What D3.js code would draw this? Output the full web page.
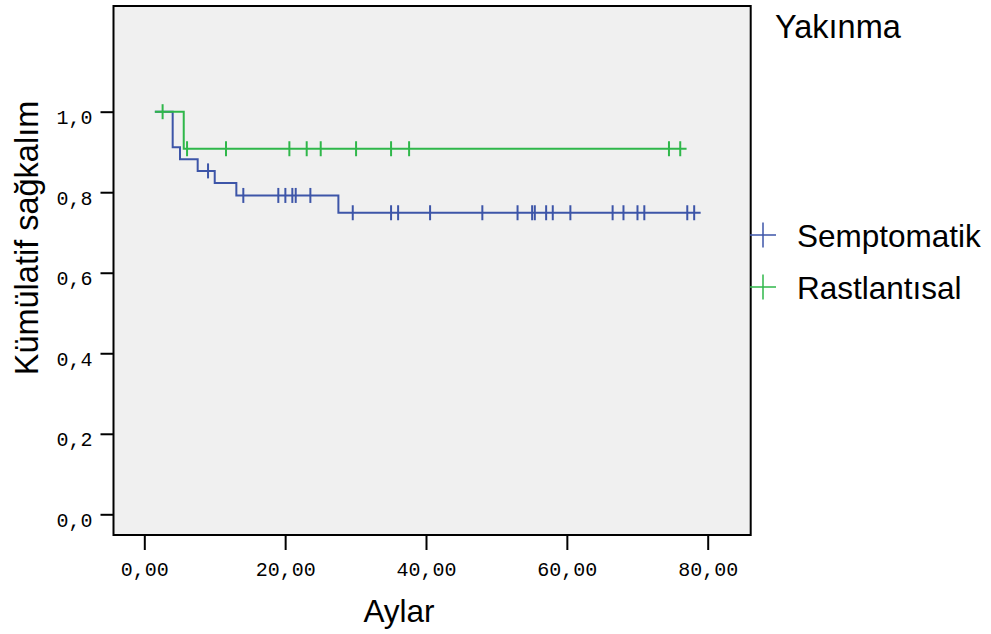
<!DOCTYPE html>
<html><head><meta charset="utf-8">
<script src="https://cdn.jsdelivr.net/npm/d3@7"></script>
<style>html,body{margin:0;padding:0;background:#fff;}svg{display:block;}</style>
</head><body>
<svg id="chart" width="991" height="634"></svg>
<script>
// ---- data ----
const seriesNames = ["Semptomatik", "Rastlantısal"];
const startTime = 1.5;
// Semptomatik
const semEventTimes = [4.03, 5.07, 7.58, 10.0, 13.07, 27.56];
const semSurvival   = [0.912, 0.882, 0.853, 0.823, 0.792, 0.749];
const semCensor = [9.05, 14.06, 19.03, 20.03, 21.02, 21.5, 23.58, 29.6, 35.04, 36.04, 40.58, 48.0, 53.0, 55.07, 55.45, 57.06, 58.0, 60.5, 66.5, 68.04, 70.03, 71.0, 77.1, 78.08];
const semEnd = 79.0;
// Rastlantısal
const rasEventTimes = [5.6];
const rasSurvival   = [0.908];
const rasCensor = [2.6, 6.07, 11.6, 20.6, 23.06, 25.05, 30.07, 35.04, 37.6, 74.5, 76.1];
const rasEnd = 77.0;
// ticks
const xTicks = [0, 20, 40, 60, 80];
const xTickLabels = ["0,00", "20,00", "40,00", "60,00", "80,00"];
const yTicks = [0, 0.2, 0.4, 0.6, 0.8, 1.0];
const yTickLabels = ["0,0", "0,2", "0,4", "0,6", "0,8", "1,0"];
const xTitle = "Aylar";
const yTitle = "Kümülatif sağkalım";
const legendTitle = "Yakınma";

// ---- layout ----
const svg = d3.select("#chart");
const colors = ["#3d55a8", "#2fb74a"];
const x = d3.scaleLinear().domain([0, 80]).range([144.3, 707.7]);
const y = d3.scaleLinear().domain([0, 1]).range([514.3, 111.7]);
const frame = {x0: 113.5, y0: 6, x1: 750.7, y1: 535};

svg.append("rect").attr("x", frame.x0).attr("y", frame.y0)
  .attr("width", frame.x1 - frame.x0).attr("height", frame.y1 - frame.y0)
  .attr("fill", "#f0f0f0").attr("stroke", "none");

// axes
const yAxis = d3.axisLeft(y).tickValues(yTicks).tickSize(13).tickPadding(8)
  .tickFormat((d, i) => yTickLabels[i]);
const gy = svg.append("g").attr("transform", `translate(${frame.x0},0)`).call(yAxis);
gy.select(".domain").remove();
gy.selectAll(".tick line").attr("stroke", "#000").attr("stroke-width", 2);
gy.selectAll(".tick text").attr("font-family", "'Liberation Mono', monospace")
  .attr("font-size", 20).attr("fill", "#000").attr("dy", "0.6em");

const xAxis = d3.axisBottom(x).tickValues(xTicks).tickSize(15).tickPadding(12)
  .tickFormat((d, i) => xTickLabels[i]);
const gx = svg.append("g").attr("transform", `translate(0,${frame.y1})`).call(xAxis);
gx.select(".domain").remove();
gx.selectAll(".tick line").attr("stroke", "#000").attr("stroke-width", 2);
gx.selectAll(".tick text").attr("font-family", "'Liberation Mono', monospace")
  .attr("font-size", 20).attr("fill", "#000");

// frame border
svg.append("rect").attr("x", frame.x0).attr("y", frame.y0)
  .attr("width", frame.x1 - frame.x0).attr("height", frame.y1 - frame.y0)
  .attr("fill", "none").attr("stroke", "#000").attr("stroke-width", 2);

// curves
function buildSeries(evT, evS, cens, end) {
  const pts = [[startTime, 1]];
  evT.forEach((t, i) => pts.push([t, evS[i]]));
  const last = pts[pts.length - 1][1];
  pts.push([end, last]);
  const survAt = t => { let s = 1; evT.forEach((e, i) => { if (e <= t) s = evS[i]; }); return s; };
  const cpts = cens.map(t => [t, survAt(t)]);
  return {pts, cpts};
}
const series = [
  buildSeries(semEventTimes, semSurvival, semCensor, semEnd),
  buildSeries(rasEventTimes, rasSurvival, rasCensor, rasEnd)
];
const line = d3.line().x(d => x(d[0])).y(d => y(d[1])).curve(d3.curveStepAfter);
series.forEach((s, i) => {
  const g = svg.append("g");
  g.append("path").datum(s.pts).attr("d", line).attr("fill", "none")
    .attr("stroke", colors[i]).attr("stroke-width", 2);
  g.selectAll("line.c").data(s.cpts).enter().append("line")
    .attr("x1", d => x(d[0])).attr("x2", d => x(d[0]))
    .attr("y1", d => y(d[1]) - 7.5).attr("y2", d => y(d[1]) + 7.5)
    .attr("stroke", colors[i]).attr("stroke-width", 2);
});

// titles
svg.append("text").attr("x", 399).attr("y", 622).attr("text-anchor", "middle")
  .attr("font-family", "'Liberation Sans', Arial, sans-serif").attr("font-size", 31.5)
  .attr("fill", "#000").text(xTitle);
svg.append("text").attr("transform", "translate(38,238) rotate(-90)").attr("text-anchor", "middle")
  .attr("font-family", "'Liberation Sans', Arial, sans-serif").attr("font-size", 32.5)
  .attr("fill", "#000").text(yTitle);

// legend
svg.append("text").attr("x", 775).attr("y", 38)
  .attr("font-family", "'Liberation Sans', Arial, sans-serif").attr("font-size", 32.5)
  .attr("fill", "#000").text(legendTitle);
const legY = [235, 287];
seriesNames.forEach((n, i) => {
  const g = svg.append("g");
  g.append("line").attr("x1", 750).attr("x2", 776).attr("y1", legY[i]).attr("y2", legY[i])
    .attr("stroke", colors[i]).attr("stroke-width", 1.5);
  g.append("line").attr("x1", 763).attr("x2", 763).attr("y1", legY[i] - 12.5).attr("y2", legY[i] + 12.5)
    .attr("stroke", colors[i]).attr("stroke-width", 1.5);
  g.append("text").attr("x", 797).attr("y", legY[i] + 11.5)
    .attr("font-family", "'Liberation Sans', Arial, sans-serif").attr("font-size", 31.5)
    .attr("fill", "#000").text(n);
});
</script>
</body></html>
